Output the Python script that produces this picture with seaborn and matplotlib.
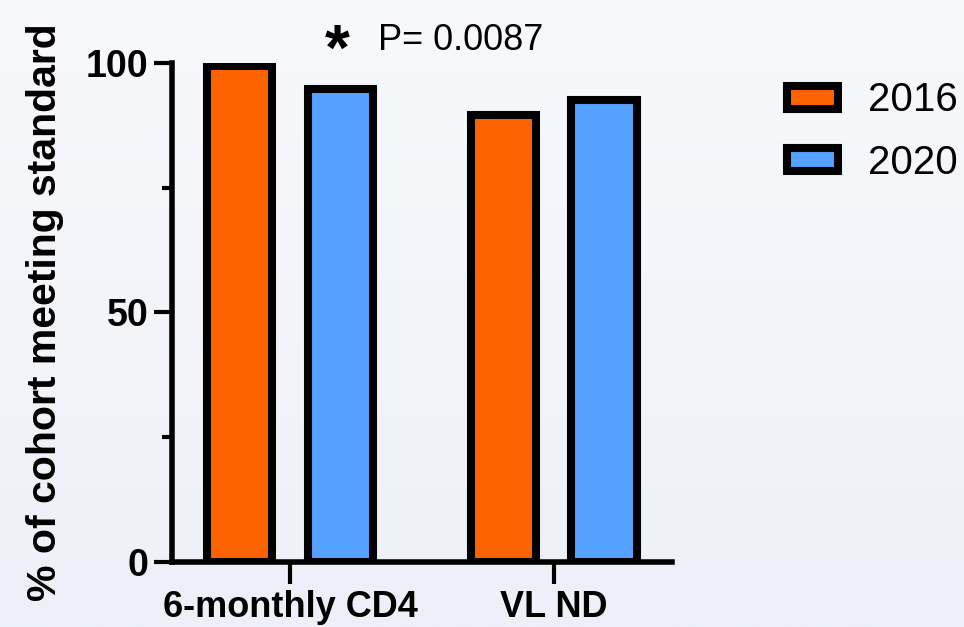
import numpy as np
import pandas as pd
import matplotlib.pyplot as plt
from matplotlib.ticker import MultipleLocator
import seaborn as sns

standards = ['6-monthly CD4', 'VL ND']
years = ['2016', '2020']
pct_2016 = [99.5, 89.6]
pct_2020 = [94.7, 92.5]
p_text = 'P= 0.0087'

colors = {'2016': '#ff6200', '2020': '#55a1ff'}

df = pd.DataFrame({
    'standard': standards * 2,
    'year': [years[0]] * 2 + [years[1]] * 2,
    'pct': pct_2016 + pct_2020,
})

sns.set_theme(style='ticks')
plt.rcParams['font.family'] = ['Liberation Sans', 'DejaVu Sans']
plt.rcParams['text.color'] = 'black'

fig = plt.figure(figsize=(9.64, 6.27), dpi=100)

# light gradient background
bg = fig.add_axes([0, 0, 1, 1], zorder=-10)
grad = np.linspace(0, 1, 256).reshape(-1, 1)
bg.imshow(grad, aspect='auto', cmap=sns.blend_palette(['#f8f9fc', '#edf0f8'], as_cmap=True),
          extent=[0, 1, 0, 1])
bg.axis('off')

ax = fig.add_axes([0.1784, 0.1037, 0.697 - 0.1784, 0.8995 - 0.1037])
ax.set_facecolor('none')

sns.barplot(data=df, x='standard', y='pct', hue='year', order=standards, hue_order=years,
            palette=colors, edgecolor='black', linewidth=5.8, width=0.76, gap=0.35,
            saturation=1, ax=ax, legend=True)

ax.set_ylim(0, 100)
ax.set_xlim(-0.447, 1.447)
ax.yaxis.set_major_locator(MultipleLocator(50))
ax.yaxis.set_minor_locator(MultipleLocator(25))
sns.despine(ax=ax)
for s in ['left', 'bottom']:
    ax.spines[s].set_linewidth(4)
    ax.spines[s].set_color('black')

ax.tick_params(axis='y', which='major', length=13, width=3, color='black',
               labelsize=27, pad=4, labelcolor='black')
ax.tick_params(axis='x', which='major', length=16, width=3, color='black',
               labelsize=26, pad=4, labelcolor='black')
ax.tick_params(axis='y', which='minor', length=7, width=3, color='black')
for lab in ax.get_xticklabels() + ax.get_yticklabels():
    lab.set_fontweight('bold')

ax.set_xlabel('')
ax.set_ylabel('% of cohort meeting standard', fontsize=29.5, fontweight='bold',
              color='black', labelpad=16)

ax.text(0.178, 102, '*', fontsize=46, fontweight='bold', ha='center', va='center',
        color='black', clip_on=False)
ax.text(0.333, 104.5, p_text, fontsize=26, ha='left', va='center', color='black',
        clip_on=False)

leg = ax.legend(loc='upper left', bbox_to_anchor=(0.779, 0.928), bbox_transform=fig.transFigure,
                frameon=False, fontsize=29, handlelength=1.25, handleheight=0.5,
                labelspacing=0.6, handletextpad=0.75)
for t in leg.get_texts():
    t.set_color('black')

fig.savefig('out.png', dpi=100)
